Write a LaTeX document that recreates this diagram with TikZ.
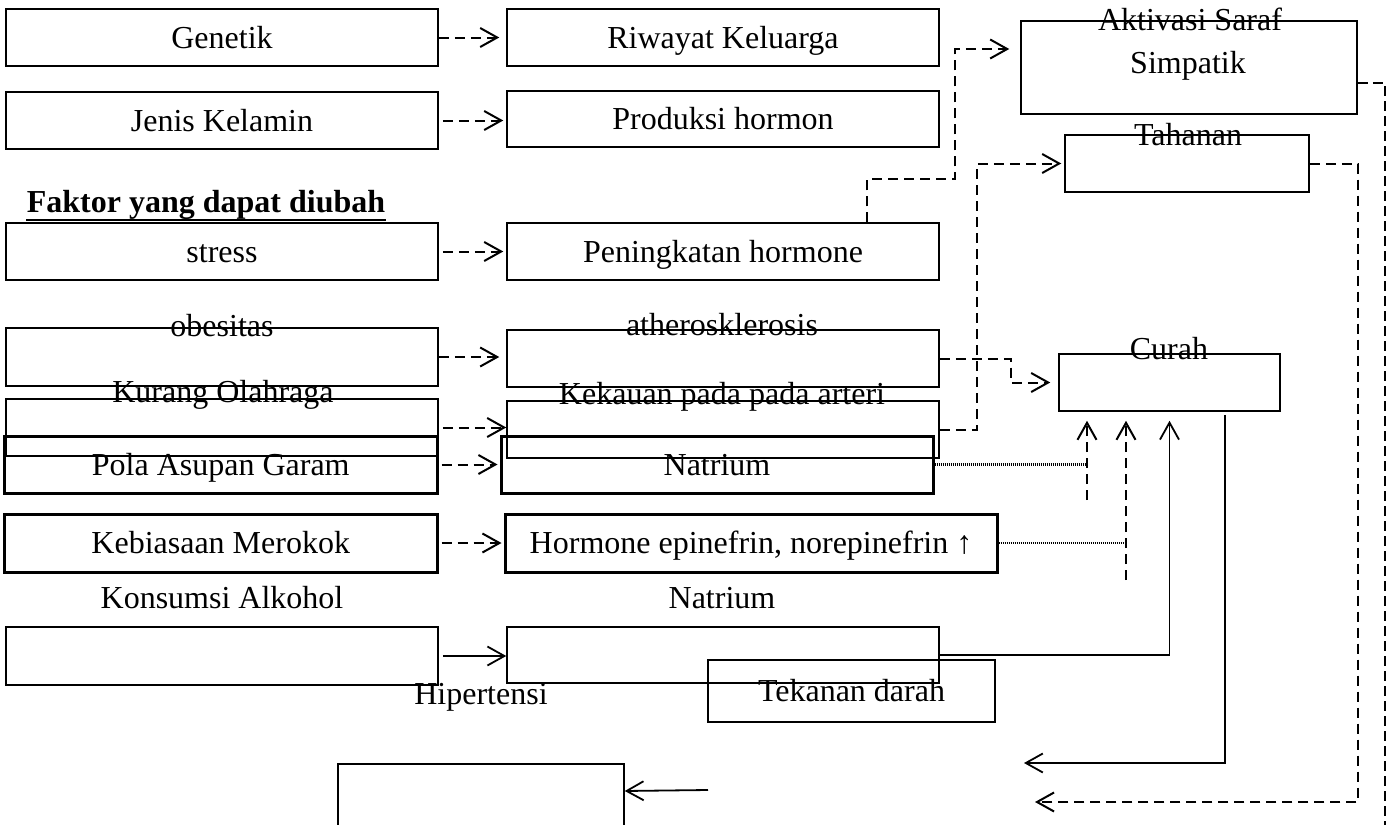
\documentclass[tikz,border=0pt]{standalone}
\usepackage{fontspec}
\setmainfont{Liberation Serif}
\usetikzlibrary{arrows.meta}

\begin{document}
\begin{tikzpicture}[x=0.5pt,y=-0.5pt,>={Straight Barb[length=8.5pt,width=9.5pt]},font=\fontsize{16}{19}\selectfont]
	\tikzstyle{box}=[draw=black,line width=0.75pt,minimum width=216pt,minimum height=28.5pt,inner sep=0pt,text height=12pt,text depth=1.4pt]
	\tikzstyle{thickbox}=[box,line width=1.5pt]
	%\tikzstyle{thickbox}=[box,line width=1.2pt]
	\tikzstyle{lbl}=[inner sep=0pt]
	\tikzstyle{dasharrow}=[->,line width=1pt,dash pattern=on 5pt off 3pt]
	\tikzstyle{dashline}=[line width=0.8pt,dash pattern=on 5pt off 2.5pt]
	\tikzstyle{dotline}=[line width=1.3pt,dash pattern=on 0.5pt off 0.5pt]
	\tikzstyle{solarrow}=[->,line width=0.9pt]
	\useasboundingbox (0,0) rectangle (1389,825);
	\clip (0,0) rectangle (1389,825);
	% faktor yang tidak dapat diubah
	\node[box] (gen) at (222,37.5) {Genetik};
	\node[box] (riw) at (723,37.5) {Riwayat Keluarga};
	\node[box] (jk) at (222,120.5) {Jenis Kelamin};
	\node[box,minimum height=28pt] (prod) at (723,119) {Produksi hormon};
	\node[lbl,font=\fontsize{16}{19}\selectfont\bfseries] (fak) at (206,205) {Faktor yang dapat diubah};
	\draw[line width=1pt] ([yshift=-3.5pt]fak.base west) -- ([yshift=-3.5pt]fak.base east);
	% faktor yang dapat diubah
	\node[box] (str) at (222,251.5) {stress};
	\node[box] (pen) at (723,251.5) {Peningkatan hormone};
	\node[box,minimum width=168pt,minimum height=46.5pt] (akt) at (1189,67.5) {};
	\node[lbl] (t-akt) at (1190,19) {Aktivasi Saraf};
	\node[lbl] (t-simp) at (1188,65.5) {Simpatik};
	\node[box,minimum width=122pt] (tah) at (1187,163.5) {};
	\node[lbl] (t-tah) at (1188,135) {Tahanan};
	\node[box,minimum height=29pt] (obes) at (222,357) {};
	\node[lbl] (t-obes) at (222,326) {obesitas};
	\node[box] (ath) at (723,358.5) {};
	\node[lbl] (t-ath) at (722,325) {atherosklerosis};
	\node[box] (kur) at (222,427.5) {};
	\node[lbl] (t-kur) at (223,395) {Kurang Olahraga};
	\node[box] (kek) at (723,429.5) {};
	\node[lbl] (t-kek) at (722,397) {Kekauan pada pada arteri};
	\node[box,minimum width=110.5pt] (cur) at (1169.5,382.5) {};
	\node[lbl] (t-cur) at (1169,349) {Curah};
	\node[thickbox,minimum width=216.25pt] (pola) at (220.75,464.5) {Pola Asupan Garam};
	\node[thickbox] (nat) at (717,464.5) {Natrium};
	\node[thickbox,minimum width=216.25pt,minimum height=29pt] (rok) at (220.75,543) {Kebiasaan Merokok};
	\node[thickbox,minimum width=246pt,minimum height=29pt] (horm) at (751,543) {Hormone epinefrin, norepinefrin ↑};
	\node[lbl] (t-alk) at (222,598) {Konsumsi Alkohol};
	\node[box,minimum height=29pt] (alk) at (222,656) {};
	\node[lbl] (t-nat2) at (722,598) {Natrium};
	\node[box,minimum height=28pt] (nat2) at (723,655) {};
	\node[box,minimum width=143.5pt,minimum height=31pt] (tek) at (851.5,691) {Tekanan darah};
	\node[lbl] (t-hip) at (481,697) {Hipertensi};
	\node[box,minimum width=143pt,minimum height=48pt] (hipbox) at (481,812) {};
	\coordinate (ca) at (1087,500);
	\coordinate (cb) at (1126,580);
	\coordinate (fb1) at (1024,763);
	\coordinate (fb2) at (1035,802);
	\coordinate (fb3) at (708,790);
	\coordinate (akt-in) at ([yshift=9.25pt]akt.west);
	% panah antar faktor
	\draw[dasharrow,shorten >=3.5pt] (gen.east) -- (gen.east -| riw.west);
	\draw[dasharrow,shorten <=2pt,shorten >=1.5pt] (jk.east) -- (jk.east -| prod.west);
	\draw[dasharrow,shorten <=2pt,shorten >=1.5pt] (str.east) -- (str.east -| pen.west);
	\draw[dasharrow,shorten >=3.5pt] (obes.east) -- (obes.east -| ath.west);
	\draw[dasharrow,shorten <=2pt] (kur.east) -- (kur.east -| kek.west);
	\draw[dasharrow,shorten <=1.5pt,shorten >=1pt] (pola.east) -- (pola.east -| nat.west);
	\draw[dasharrow,shorten <=1.5pt,shorten >=1pt] (rok.east) -- (rok.east -| horm.west);
	\draw[solarrow,shorten <=2pt] (alk.east) -- (alk.east -| nat2.west);
	% menuju curah dan tahanan
	\draw[dasharrow,shorten >=5.5pt] ([xshift=72pt]pen.north) -- ++(0,-43) -- ++(88,0) |- (akt-in);
	\draw[dasharrow,shorten >=1.5pt] (kek.east) -- ++(37,0) |- (tah.west);
	\draw[dasharrow,shorten >=4pt] (ath.east) -- ++(71,0) |- (cur.west);
	\draw[dotline] (nat.east) -- (nat.east -| ca);
	\draw[dasharrow,shorten >=4.5pt] (ca) -- (ca |- cur.south);
	\draw[dotline] (horm.east) -- (horm.east -| cb);
	\draw[dasharrow,shorten >=4.5pt] (cb) -- (cb |- cur.south);
	\draw[solarrow,shorten >=4.5pt] (nat2.east) -| (cur.south);
	% keluar ke tekanan darah
	\draw[solarrow] ([xshift=-28pt,yshift=-1.5pt]cur.south east) |- (fb1);
	\draw[dasharrow] (tah.east) -- ++(48,0) |- (fb2);
	\draw[dashline] ([yshift=-7.75pt]akt.east) -- ++(27,0) -- ++(0,760);
	\draw[solarrow] (fb3) -- ([yshift=10.5pt]hipbox.east);
\end{tikzpicture}
\end{document}
